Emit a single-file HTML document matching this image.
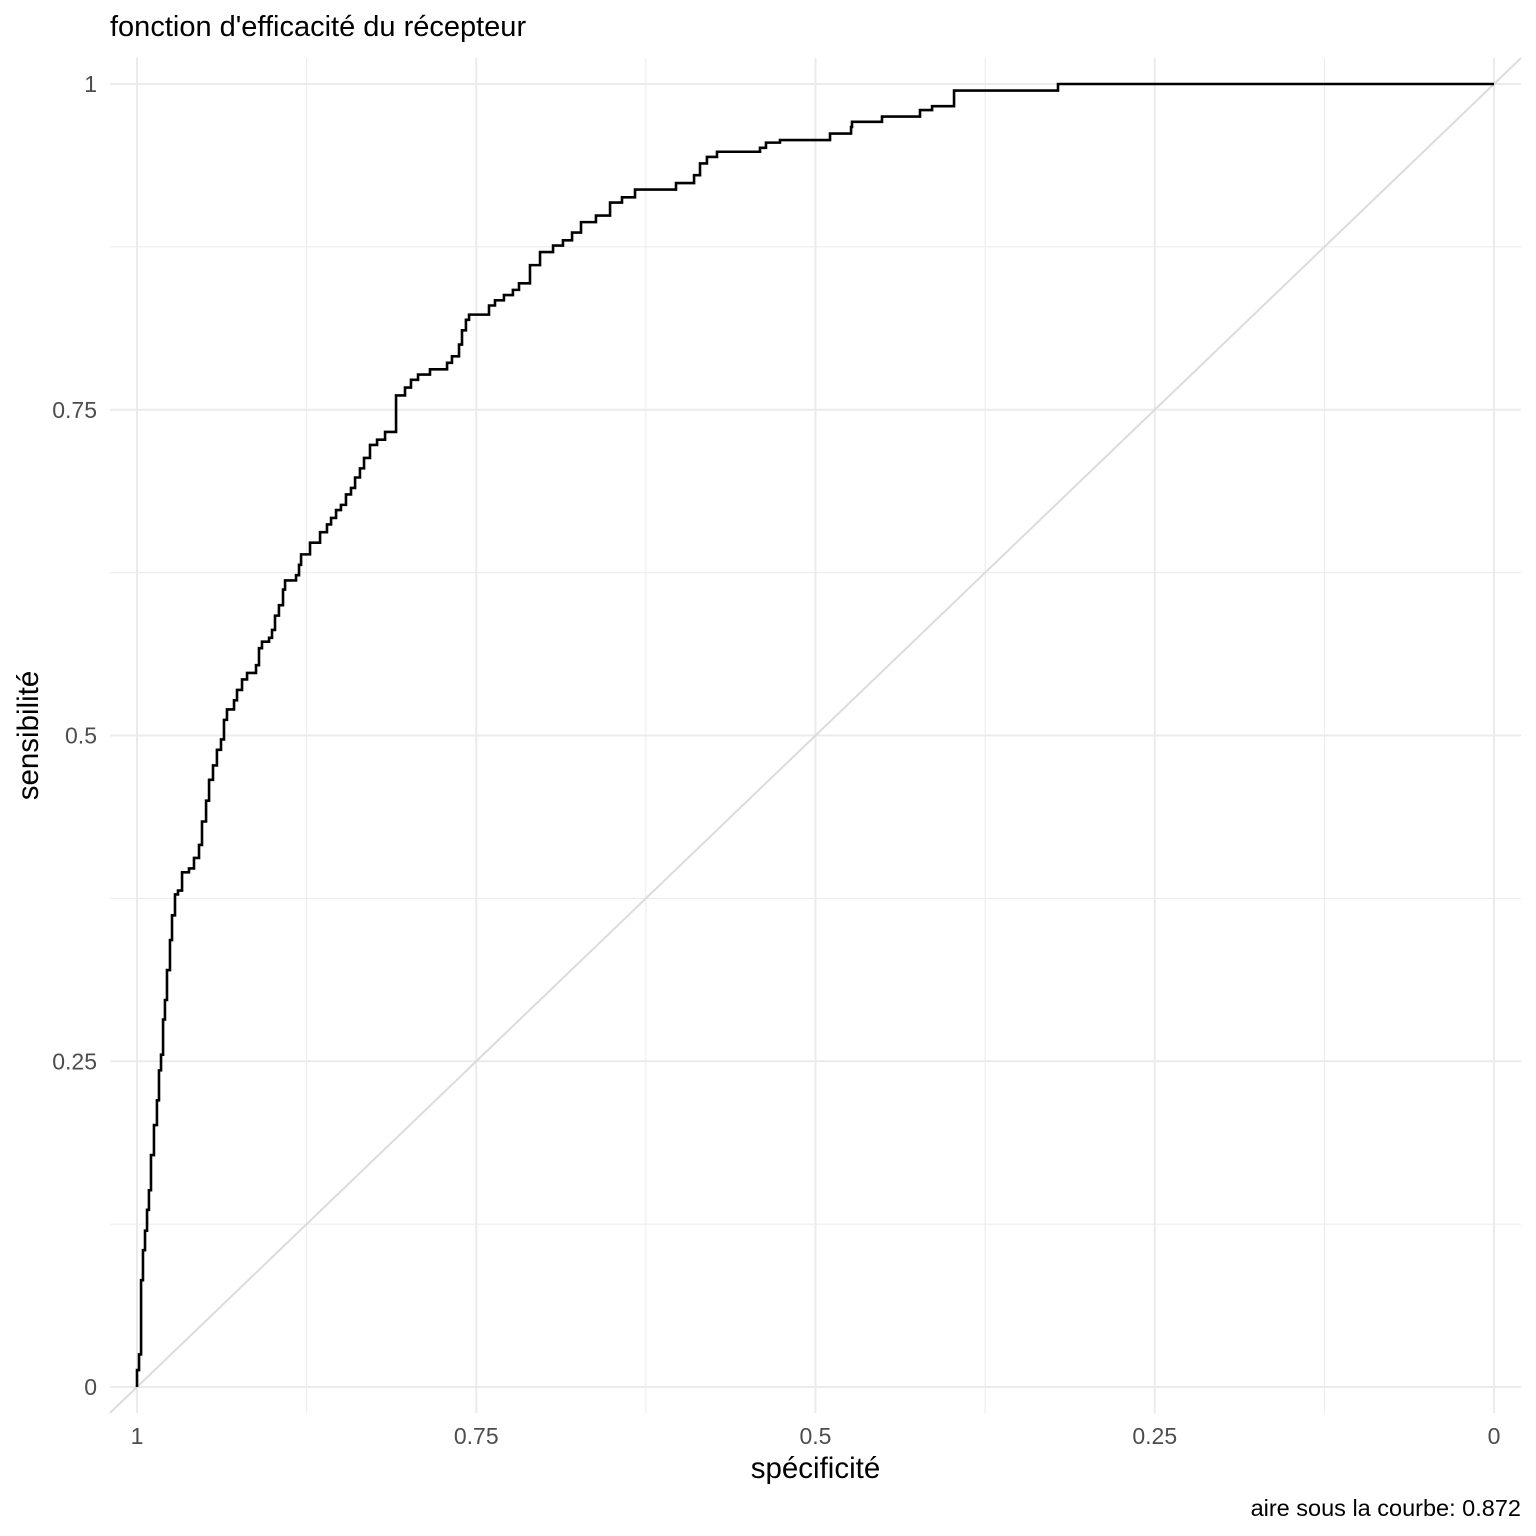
<!DOCTYPE html>
<html><head><meta charset="utf-8">
<style>
html,body{margin:0;padding:0;background:#fff;}
svg{display:block;font-family:"Liberation Sans",sans-serif;}
</style></head>
<body>
<svg id="chart" width="1536" height="1536" viewBox="0 0 1536 1536" xmlns="http://www.w3.org/2000/svg">
<rect width="1536" height="1536" fill="#fff"/>
<g id="grid"></g>
<g id="diag"></g>
<g id="curve"></g>
<g id="ticks"></g>
<text x="110" y="36" font-size="29" fill="#000">fonction d'efficacité du récepteur</text>
<text x="815.5" y="1478" font-size="29.5" text-anchor="middle" fill="#000">spécificité</text>
<text transform="translate(38,735.5) rotate(-90)" font-size="29.5" text-anchor="middle" fill="#000">sensibilité</text>
<text x="1521" y="1516" font-size="23.5" text-anchor="end" fill="#000">aire sous la courbe: 0.872</text>
</svg>
<script>
const specificity = [1.000,1.000,0.9985,0.997,0.9956,0.9941,0.9926,0.9912,0.9897,0.9875,0.9853,0.9838,0.9823,0.9808,0.9794,0.9779,0.9757,0.9742,0.9720,0.9698,0.9668,0.9617,0.9580,0.9543,0.9521,0.9491,0.9469,0.9440,0.9411,0.9381,0.9359,0.9337,0.9285,0.9263,0.9226,0.9189,0.9123,0.9101,0.9079,0.9027,0.9005,0.8983,0.8954,0.8924,0.8909,0.8828,0.8806,0.8791,0.8725,0.8651,0.8600,0.8570,0.8533,0.8497,0.8460,0.8423,0.8393,0.8357,0.8327,0.8283,0.8231,0.8172,0.8091,0.8025,0.7981,0.7929,0.7841,0.7715,0.7679,0.7627,0.7605,0.7576,0.7553,0.7406,0.7362,0.7296,0.7230,0.7185,0.7104,0.7030,0.6934,0.6861,0.6794,0.6728,0.6618,0.6514,0.6426,0.6330,0.6028,0.5895,0.5851,0.5800,0.5726,0.5409,0.5365,0.5262,0.4893,0.4738,0.4731,0.4510,0.4230,0.4141,0.3979,0.3979,0.3213,0.3213,0.000];
const sensitivity = [0,0.013,0.025,0.082,0.105,0.120,0.136,0.151,0.178,0.201,0.220,0.243,0.255,0.282,0.297,0.320,0.343,0.362,0.378,0.381,0.395,0.398,0.406,0.416,0.434,0.450,0.466,0.477,0.489,0.497,0.512,0.520,0.527,0.535,0.543,0.548,0.554,0.567,0.572,0.575,0.581,0.592,0.600,0.612,0.619,0.623,0.631,0.639,0.648,0.656,0.662,0.667,0.673,0.677,0.685,0.690,0.698,0.705,0.713,0.723,0.727,0.733,0.761,0.767,0.773,0.777,0.781,0.786,0.791,0.800,0.811,0.819,0.823,0.830,0.834,0.838,0.842,0.847,0.861,0.871,0.876,0.880,0.886,0.894,0.899,0.909,0.913,0.919,0.924,0.930,0.939,0.944,0.948,0.951,0.955,0.957,0.962,0.967,0.971,0.975,0.980,0.983,0.988,0.995,0.995,1,1];
const majorTicks = [1,0.75,0.5,0.25,0];
const majorLabels = ["1","0.75","0.5","0.25","0"];
const minorTicks = [0.875,0.625,0.375,0.125];

const NS="http://www.w3.org/2000/svg";
const xs = v => 1494 - v*1357;
const ys = v => 1387 - v*1303;
const PL=110, PR=1521, PT=58, PB=1413;
function mk(tag, attrs, parent){const e=document.createElementNS(NS,tag);for(const k in attrs)e.setAttribute(k,attrs[k]);parent.appendChild(e);return e;}
const grid=document.getElementById('grid');
minorTicks.forEach(t=>{
  let l=mk('line',{x1:xs(t),x2:xs(t),y1:PT,y2:PB,stroke:'#ebebeb','stroke-width':1},grid);
  
  
  l=mk('line',{x1:PL,x2:PR,y1:ys(t),y2:ys(t),stroke:'#ebebeb','stroke-width':1},grid);
  
  
});
const ticks=document.getElementById('ticks');
majorTicks.forEach((t,i)=>{
  let l=mk('line',{x1:xs(t),x2:xs(t),y1:PT,y2:PB,stroke:'#ebebeb','stroke-width':2},grid);
  
  
  l=mk('line',{x1:PL,x2:PR,y1:ys(t),y2:ys(t),stroke:'#ebebeb','stroke-width':2},grid);
  
  
  let tx=mk('text',{x:xs(t),y:1444,'font-size':23,'text-anchor':'middle',fill:'#4d4d4d'},ticks);
  tx.textContent=majorLabels[i];
  
  
  let ty=mk('text',{x:97,y:ys(t)+8,'font-size':23,'text-anchor':'end',fill:'#4d4d4d'},ticks);
  ty.textContent=majorLabels[i];
  
  
});
const dg=document.getElementById('diag');
const specL=(1494-PL)/1357, specR=(1494-PR)/1357;
let d=mk('line',{x1:PL,y1:ys(1-specL),x2:PR,y2:ys(1-specR),stroke:'#dcdcdc','stroke-width':2},dg);


let p='M'+xs(specificity[0])+','+ys(sensitivity[0]);
for(let i=1;i<specificity.length;i++){
  p+=' H'+xs(specificity[i])+' V'+ys(sensitivity[i]);
}
let c=mk('path',{d:p,fill:'none',stroke:'#000','stroke-width':2.6},document.getElementById('curve'));


</script>
</body></html>
